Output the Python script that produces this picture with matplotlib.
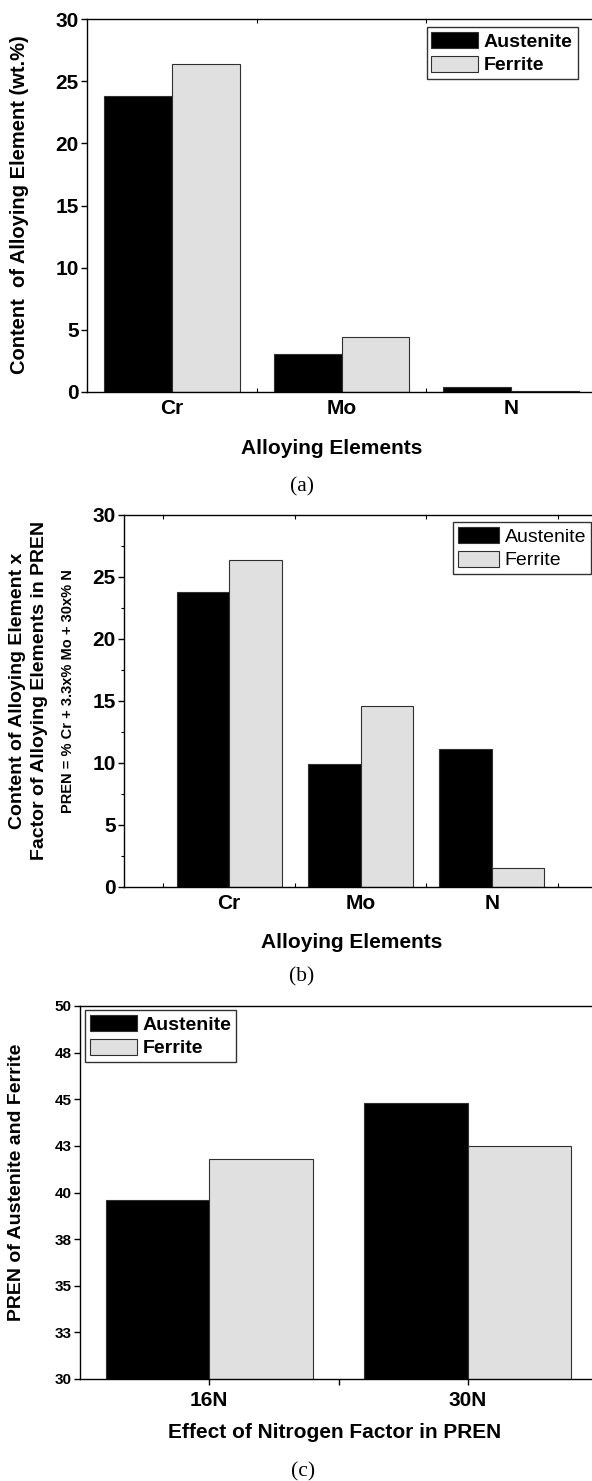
import matplotlib
matplotlib.use("Agg")
import matplotlib.pyplot as plt
from matplotlib.ticker import MultipleLocator, FixedLocator
import numpy as np

# ---------------- data ----------------
elements = ["Cr", "Mo", "N"]
aus_content = [23.8, 3.0, 0.37]
fer_content = [26.4, 4.4, 0.05]

aus_pren_part = [23.8, 9.9, 11.1]
fer_pren_part = [26.4, 14.6, 1.5]

conditions = ["16N", "30N"]
aus_pren = [39.6, 44.8]
fer_pren = [41.8, 42.5]

series_names = ["Austenite", "Ferrite"]
c_yticks = [30, 32.5, 35, 37.5, 40, 42.5, 45, 47.5, 50]
c_yticklabels = ["30", "33", "35", "38", "40", "43", "45", "48", "50"]

# ---------------- style ----------------
FONT = ["Liberation Sans", "DejaVu Sans"]
SERIF = ["Liberation Serif", "DejaVu Serif"]
plt.rcParams["font.family"] = FONT
AUS_C = "#000000"
FER_C = "#e0e0e0"
EDGE = "#303030"

W, H = 592, 1481
fig = plt.figure(figsize=(W / 100, H / 100), dpi=100)


def ax_rect(left, right, top, bottom):
    return [left / W, 1 - bottom / H, (right - left) / W, (bottom - top) / H]


def style_axes(ax, tick_fs, xtick_fs):
    for s in ["left", "bottom", "top"]:
        ax.spines[s].set_linewidth(1.0)
        ax.spines[s].set_color("black")
    ax.spines["right"].set_visible(False)
    ax.tick_params(axis="y", which="major", direction="out", length=4, width=1,
                   labelsize=tick_fs, pad=2)
    ax.tick_params(axis="y", which="minor", direction="out", length=2.5, width=0.8)
    ax.tick_params(axis="x", which="major", direction="out", length=0,
                   labelsize=xtick_fs, pad=5)
    ax.tick_params(axis="x", which="minor", direction="in", length=3, width=0.8,
                   top=True, bottom=True)
    for lab in ax.get_yticklabels() + ax.get_xticklabels():
        lab.set_fontweight("bold")


def bars(ax, x, a, f):
    x = np.arange(1, len(x) + 1)
    ax.bar(x - 0.2, a, width=0.4, color=AUS_C, edgecolor=EDGE, linewidth=0.8,
           label=series_names[0], zorder=2)
    ax.bar(x + 0.2, f, width=0.4, color=FER_C, edgecolor=EDGE, linewidth=0.8,
           label=series_names[1], zorder=2)
    return x


def legend(ax, loc, anchor, bold, hl=2.4):
    leg = ax.legend(loc=loc, bbox_to_anchor=anchor, borderaxespad=0,
                    frameon=True, fancybox=False, handlelength=hl,
                    handleheight=0.9, handletextpad=0.3, labelspacing=0.25,
                    borderpad=0.25,
                    prop={"family": FONT, "size": 14,
                          "weight": "bold" if bold else "normal"})
    leg.get_frame().set_edgecolor("black")
    leg.get_frame().set_linewidth(1.0)
    return leg


# ---------------- (a) ----------------
ax1 = fig.add_axes(ax_rect(87, 596, 19.3, 391.7))
x = bars(ax1, elements, aus_content, fer_content)
ax1.set_xlim(0.5, 3.5)
ax1.set_ylim(0, 30)
ax1.set_xticks(x)
ax1.set_xticklabels(elements)
ax1.xaxis.set_minor_locator(FixedLocator([1.5, 2.5]))
ax1.yaxis.set_major_locator(MultipleLocator(5))
style_axes(ax1, 15, 15)
legend(ax1, "upper right", (0.964, 0.979), True)

fig.text(20 / W, 1 - 205 / H, "Content  of Alloying Element (wt.%)", rotation=90,
         ha="center", va="center", fontsize=14.5, fontweight="bold")
fig.text(332 / W, 1 - 448 / H, "Alloying Elements", ha="center", va="center",
         fontsize=15, fontweight="bold")
fig.text(302 / W, 1 - 487 / H, "(a)", ha="center", va="center",
         fontsize=15.5, family=SERIF)

# ---------------- (b) ----------------
ax2 = fig.add_axes(ax_rect(124, 597, 515, 886.7))
x = bars(ax2, elements, aus_pren_part, fer_pren_part)
ax2.set_xlim(0.2, 3.8)
ax2.set_ylim(0, 30)
ax2.set_xticks(x)
ax2.set_xticklabels(elements)
ax2.xaxis.set_minor_locator(FixedLocator([0.5, 1.5, 2.5, 3.5]))
ax2.yaxis.set_major_locator(MultipleLocator(5))
ax2.yaxis.set_minor_locator(MultipleLocator(2.5))
style_axes(ax2, 15, 15)
legend(ax2, "upper right", (0.987, 0.981), False, hl=2.1)

fig.text(17.5 / W, 1 - 691 / H, "Content of Alloying Element x", rotation=90,
         ha="center", va="center", fontsize=14, fontweight="bold")
fig.text(39.5 / W, 1 - 690 / H, "Factor of Alloying Elements in PREN", rotation=90,
         ha="center", va="center", fontsize=14, fontweight="bold")
fig.text(68 / W, 1 - 691 / H, "PREN = % Cr + 3.3x% Mo + 30x% N", rotation=90,
         ha="center", va="center", fontsize=10.5, fontweight="bold")
fig.text(352 / W, 1 - 943 / H, "Alloying Elements", ha="center", va="center",
         fontsize=15, fontweight="bold")
fig.text(302 / W, 1 - 977 / H, "(b)", ha="center", va="center",
         fontsize=15.5, family=SERIF)

# ---------------- (c) ----------------
ax3 = fig.add_axes(ax_rect(80, 597, 1006, 1379))
x = bars(ax3, conditions, aus_pren, fer_pren)
ax3.set_xlim(0.5, 2.5)
ax3.set_ylim(30, 50)
ax3.set_xticks(x)
ax3.set_xticklabels(conditions)
ax3.xaxis.set_minor_locator(FixedLocator([1.5]))
ax3.set_yticks(c_yticks)
ax3.set_yticklabels(c_yticklabels)
style_axes(ax3, 11, 15)
ax3.tick_params(axis="x", which="major", direction="out", length=4, width=1)
ax3.tick_params(axis="x", which="minor", direction="out", length=4, width=1,
                top=False)
legend(ax3, "upper left", (0.0097, 0.989), True)

fig.text(17 / W, 1 - 1182 / H, "PREN of Austenite and Ferrite", rotation=90,
         ha="center", va="center", fontsize=14, fontweight="bold")
fig.text(335 / W, 1 - 1432 / H, "Effect of Nitrogen Factor in PREN", ha="center",
         va="center", fontsize=15, fontweight="bold")
fig.text(303 / W, 1 - 1472 / H, "(c)", ha="center", va="center",
         fontsize=15.5, family=SERIF)

fig.savefig("out.png", dpi=100)
